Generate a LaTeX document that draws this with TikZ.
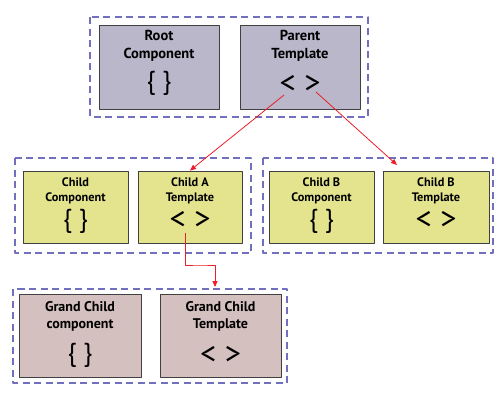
\documentclass[tikz,border=0pt]{standalone}
\usepackage{fontspec}
\setmainfont{PT Sans}
\usetikzlibrary{arrows.meta}
\definecolor{rootfill}{RGB}{185,183,201}
\definecolor{childfill}{RGB}{228,228,142}
\definecolor{grandfill}{RGB}{213,192,192}
\definecolor{framecol}{RGB}{112,112,190}
\definecolor{linkred}{RGB}{236,30,40}

\begin{document}
\begin{tikzpicture}[
  x=1pt,
  y=-1pt,
  line join=round,
  >={Triangle[width=5pt,length=6pt]},
  frame/.style={draw=framecol, line width=1.2pt, dash pattern=on 7pt off 4.5pt},
  box/.style={draw=black!75, line width=0.9pt, inner sep=0pt},
  bigtitle/.style={font=\bfseries\fontsize{14.5}{18}\selectfont, align=center},
  smalltitle/.style={font=\bfseries\fontsize{12.3}{15}\selectfont, align=center},
  grandtitle/.style={font=\bfseries\fontsize{14}{17}\selectfont, align=center},
  brace/.style={font=\fontsize{26}{26}\selectfont},
  angle/.style={font=\fontsize{32}{32}\selectfont},
  link/.style={->, draw=linkred, line width=0.8pt}
]
\useasboundingbox (0,0) rectangle (500,400);

% dashed frames
\draw [frame] (90,17) rectangle (368,117);
\draw [frame] (15,158) rectangle (251,253);
\draw [frame] (263,158) rectangle (493,253);
\draw [frame] (13,289) rectangle (287,383);

% top row
\node [box, fill=rootfill, minimum width=120, minimum height=84] (root) at (159,67) {};
\node [bigtitle] (rootL) at (159,46) {Root\\Component};
\node [brace] (rootS) at (159,83) {\{ \}};
\node [box, fill=rootfill, minimum width=120, minimum height=84] (parent) at (300,67) {};
\node [bigtitle] (parentL) at (300,46) {Parent\\Template};
\node [angle] (parentS) at (300,84) {< >};

% middle row
\node [box, fill=childfill, minimum width=105, minimum height=72] (child) at (75.5,207) {};
\node [smalltitle] (childL) at (75.5,190.5) {Child\\Component};
\node [brace] (childS) at (75.5,221) {\{ \}};
\node [box, fill=childfill, minimum width=104, minimum height=72] (childA) at (190,207) {};
\node [smalltitle] (childAL) at (190,190.5) {Child A\\Template};
\node [angle] (childAS) at (190,220) {< >};

\node [box, fill=childfill, minimum width=105, minimum height=72] (childB) at (321.5,207) {};
\node [smalltitle] (childBL) at (321.5,190.5) {Child B\\Component};
\node [brace] (childBS) at (321.5,221) {\{ \}};
\node [box, fill=childfill, minimum width=106, minimum height=72] (childBT) at (436,207) {};
\node [smalltitle] (childBTL) at (436,190.5) {Child B\\Template};
\node [angle] (childBTS) at (436,220) {< >};

% bottom row
\node [box, fill=grandfill, minimum width=122, minimum height=83] (grand) at (80,335.5) {};
\node [grandtitle] (grandL) at (80,316.5) {Grand Child\\component};
\node [brace] (grandS) at (80,355) {\{ \}};
\node [box, fill=grandfill, minimum width=121, minimum height=83] (grandT) at (220.5,335.5) {};
\node [grandtitle] (grandTL) at (220.5,316.5) {Grand Child\\Template};
\node [angle] (grandTS) at (220.5,355) {< >};

% links
\coordinate (pOut1) at (284,95);
\coordinate (pOut2) at (316,92);
\coordinate (bIn) at (397,165);
\coordinate (aOut) at (185,233);
\coordinate (gIn) at (215,287);
\draw [link] (pOut1) -- (childA.north);
\draw [link] (pOut2) -- (bIn);
\draw [link] (aOut) |- (200,265) -| (gIn);

\end{tikzpicture}
\end{document}
